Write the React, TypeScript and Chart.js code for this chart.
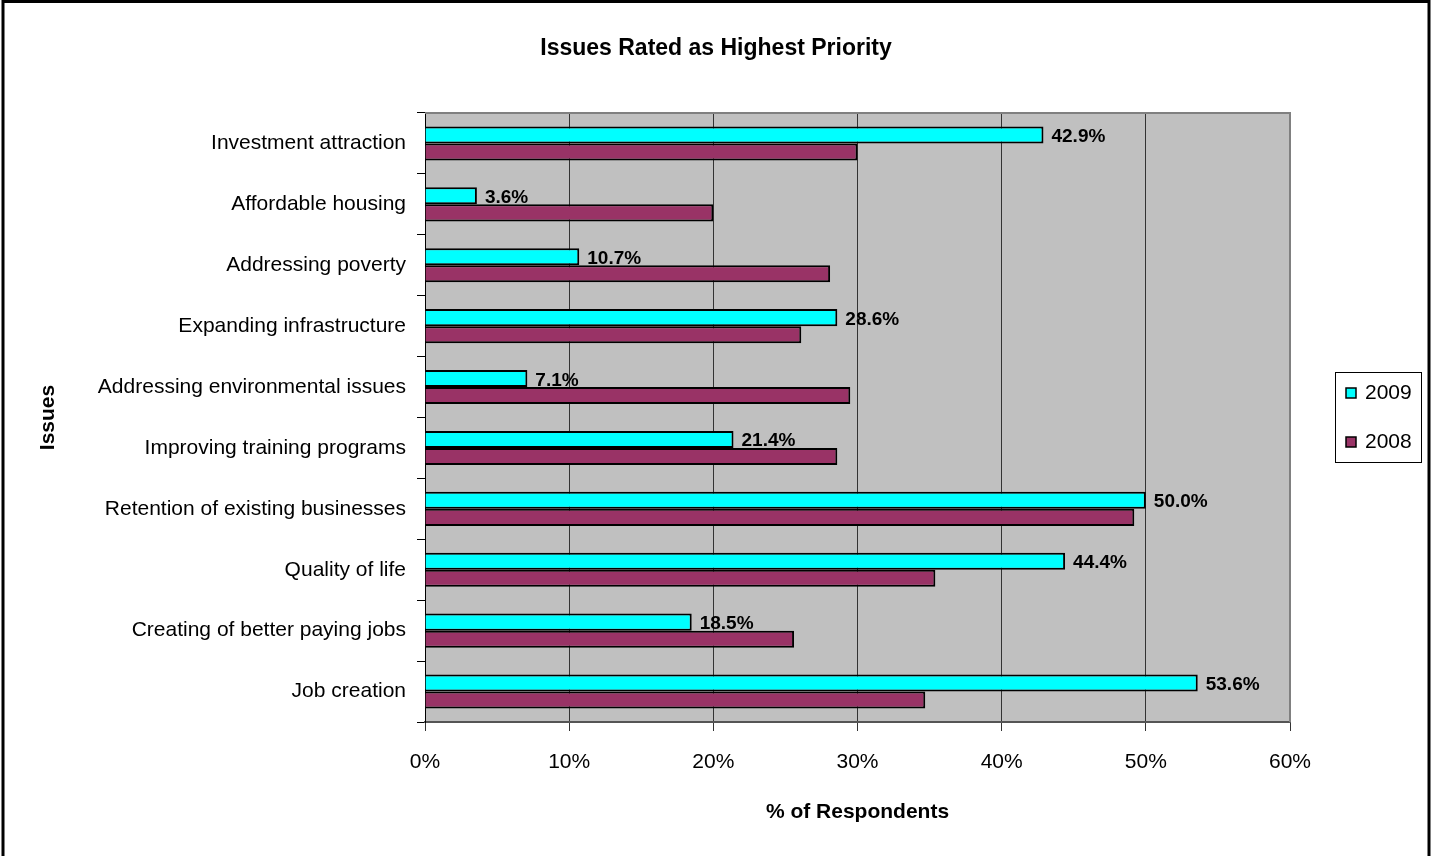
import React, { useEffect, useRef } from "react";
import { Chart, registerables } from "chart.js";

Chart.register(...registerables);

const categories = [
  "Investment attraction",
  "Affordable housing",
  "Addressing poverty",
  "Expanding infrastructure",
  "Addressing environmental issues",
  "Improving training programs",
  "Retention of existing businesses",
  "Quality of life",
  "Creating of better paying jobs",
  "Job creation",
];

const values2009 = [42.9, 3.6, 10.7, 28.6, 7.1, 21.4, 50.0, 44.4, 18.5, 53.6];
const values2008 = [30.0, 20.0, 28.1, 26.1, 29.5, 28.6, 49.2, 35.4, 25.6, 34.7];

const seriesNames = ["2009", "2008"];
const xTicks = [0, 10, 20, 30, 40, 50, 60];

const titleText = "Issues Rated as Highest Priority";
const xTitle = "% of Respondents";
const yTitle = "Issues";

const FONT = "'Liberation Sans', Arial, sans-serif";
const CYAN = "#00FFFF";
const MAROON = "#993366";

const decorPlugin = {
  id: "decor",
  beforeDraw(chart: any) {
    const { ctx, chartArea } = chart;
    ctx.save();
    ctx.fillStyle = "#ffffff";
    ctx.fillRect(0, 0, chart.width, chart.height);
    ctx.fillStyle = "#C0C0C0";
    ctx.fillRect(chartArea.left, chartArea.top, chartArea.right - chartArea.left, chartArea.bottom - chartArea.top);
    ctx.restore();
  },
  beforeDatasetsDraw(chart: any) {
    const { ctx, chartArea } = chart;
    ctx.save();
    ctx.strokeStyle = "#808080";
    ctx.lineWidth = 2;
    ctx.beginPath();
    ctx.moveTo(chartArea.left, chartArea.top);
    ctx.lineTo(chartArea.right, chartArea.top);
    ctx.lineTo(chartArea.right, chartArea.bottom);
    ctx.stroke();
    ctx.restore();
  },
  afterDraw(chart: any) {
    const { ctx } = chart;
    ctx.save();
    // chart title, centred on the whole figure
    ctx.font = `bold 23px ${FONT}`;
    ctx.fillStyle = "#000";
    ctx.textAlign = "center";
    ctx.textBaseline = "middle";
    ctx.fillText(titleText, chart.width / 2, 49);
    // data labels for 2009
    const meta = chart.getDatasetMeta(0);
    ctx.font = `bold 19px ${FONT}`;
    ctx.textAlign = "left";
    ctx.textBaseline = "alphabetic";
    meta.data.forEach((bar: any, i: number) => {
      const v = values2009[i];
      ctx.fillText(v.toFixed(1) + "%", bar.x + 8, bar.y + 7);
    });
    // legend
    const lx = 1335, ly = 372, lw = 86, lh = 90;
    ctx.fillStyle = "#ffffff";
    ctx.fillRect(lx, ly, lw, lh);
    ctx.strokeStyle = "#000";
    ctx.lineWidth = 1;
    ctx.strokeRect(lx + 0.5, ly + 0.5, lw, lh);
    const colors = [CYAN, MAROON];
    const ys = [393, 442];
    ctx.font = `21px ${FONT}`;
    ctx.textBaseline = "middle";
    seriesNames.forEach((name, i) => {
      ctx.fillStyle = colors[i];
      ctx.fillRect(1346, ys[i] - 5, 10, 10);
      ctx.strokeStyle = "#000";
      ctx.lineWidth = 1.5;
      ctx.strokeRect(1346, ys[i] - 5, 10, 10);
      ctx.fillStyle = "#000";
      ctx.fillText(name, 1365, ys[i]);
    });
    // outer border
    ctx.strokeStyle = "#000";
    ctx.lineWidth = 3;
    ctx.strokeRect(3, 1.5, 1426, 860);
    ctx.restore();
  },
};

export default function App() {
  const ref = useRef<HTMLCanvasElement | null>(null);
  useEffect(() => {
    if (!ref.current) return;
    const chart = new Chart(ref.current, {
      type: "bar",
      data: {
        labels: categories,
        datasets: [
          {
            label: seriesNames[0],
            data: values2009,
            backgroundColor: CYAN,
            borderColor: "#000",
            borderWidth: 2,
            categoryPercentage: 0.56,
            barPercentage: 1.0,
          },
          {
            label: seriesNames[1],
            data: values2008,
            backgroundColor: MAROON,
            borderColor: "#000",
            borderWidth: 2,
            categoryPercentage: 0.56,
            barPercentage: 1.0,
          },
        ],
      },
      options: {
        indexAxis: "y",
        responsive: false,
        animation: false,
        devicePixelRatio: 1,
        layout: { padding: { left: 0, right: 142, top: 113, bottom: 0 } },
        plugins: {
          legend: { display: false },
          tooltip: { enabled: false },
          title: { display: false },
        },
        scales: {
          x: {
            type: "linear",
            min: 0,
            max: 60,
            afterFit: (scale: any) => {
              scale.height = 134;
            },
            afterBuildTicks: (scale: any) => {
              scale.ticks = xTicks.map((v) => ({ value: v }));
            },
            ticks: {
              color: "#000",
              font: { family: FONT, size: 21 },
              padding: 19,
              callback: (v: any) => v + "%",
            },
            grid: {
              color: "#333333",
              lineWidth: 1,
              tickLength: 9,
              drawTicks: true,
            },
            border: { display: true, color: "#555555", width: 2 },
            title: {
              display: true,
              text: xTitle,
              color: "#000",
              font: { family: FONT, size: 21, weight: "bold" },
              padding: { top: 0, bottom: 31.4 },
            },
          },
          y: {
            type: "category",
            afterFit: (scale: any) => {
              scale.width = 425;
            },
            ticks: {
              color: "#000",
              font: { family: FONT, size: 21 },
              padding: 11,
            },
            grid: {
              offset: true,
              drawOnChartArea: false,
              drawTicks: true,
              tickLength: 8,
              color: "#000",
              lineWidth: 1,
            },
            border: { display: true, color: "#000", width: 1 },
            title: {
              display: true,
              text: yTitle,
              color: "#000",
              font: { family: FONT, size: 21, weight: "bold" },
              padding: { top: 36, bottom: 0 },
            },
          },
        },
      } as any,
      plugins: [decorPlugin],
    });
    return () => chart.destroy();
  }, []);
  return (
    <div style={{ position: "absolute", left: 0, top: 0, width: 1432, height: 856 }}>
      <canvas ref={ref} width={1432} height={856} style={{ width: 1432, height: 856, display: "block" }} />
    </div>
  );
}
